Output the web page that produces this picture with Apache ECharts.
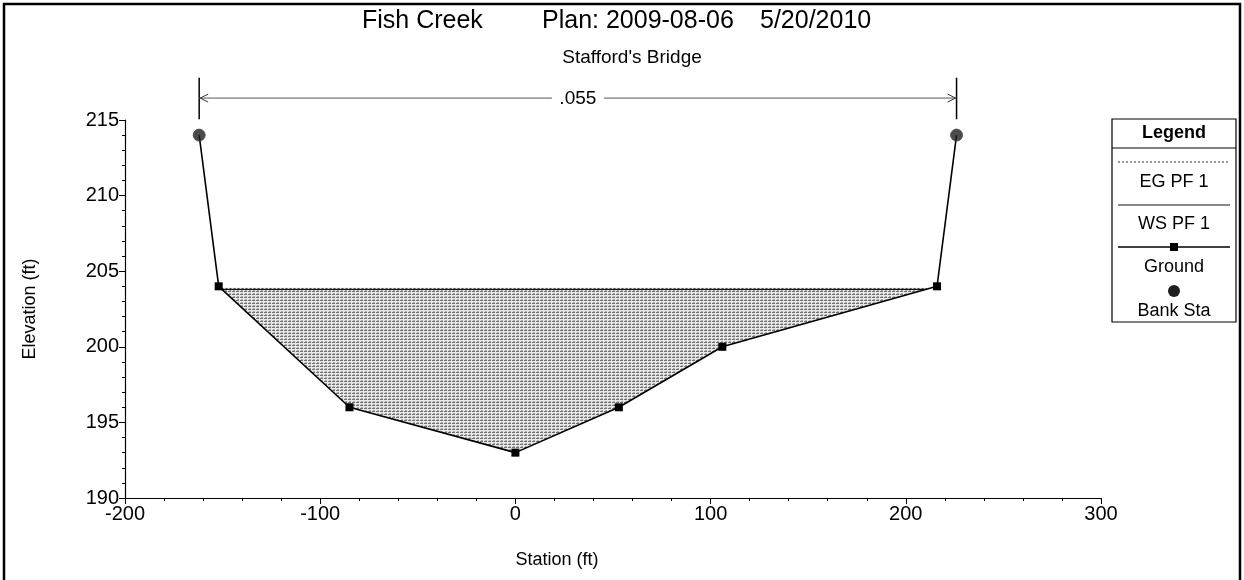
<!DOCTYPE html>
<html>
<head>
<meta charset="utf-8">
<script src="https://cdn.jsdelivr.net/npm/echarts@6/dist/echarts.min.js"></script>
<style>
html,body{margin:0;padding:0;background:#fff;}
#chart{width:1244px;height:580px;}
</style>
</head>
<body>
<div id="chart"></div>
<script>
// ---- data ----
const stations = [-162, -152, -85, 0, 53, 106, 216, 226];
const elevations = [214, 204, 196, 193, 196, 200, 204, 214];
const bankStations = [-162, 226];
const bankElevations = [214, 214];
const wsElevation = 203.8;
const egElevation = 203.86;
const manningN = '.055';
const xTicks = [-200, 300, 100];   // min, max, interval
const yTicks = [190, 215, 5];
const titleParts = ['Fish Creek', 'Plan: 2009-08-06', '5/20/2010'];
const subTitle = "Stafford's Bridge";
const legendItems = ['EG PF 1', 'WS PF 1', 'Ground', 'Bank Sta'];

const FONT = '"Liberation Sans", Arial, sans-serif';

// water edge intersections with ground
function waterPolygon(ws) {
  const pts = [];
  for (let i = 0; i < stations.length - 1; i++) {
    const x1 = stations[i], y1 = elevations[i], x2 = stations[i+1], y2 = elevations[i+1];
    if (y1 < ws) pts.push([x1, y1]);
    if ((y1 - ws) * (y2 - ws) < 0) {
      const t = (ws - y1) / (y2 - y1);
      pts.push([x1 + t * (x2 - x1), ws]);
    }
  }
  return pts;
}
const waterPts = waterPolygon(wsElevation);
const wsLine = [waterPts[0], waterPts[waterPts.length - 1]];
const egLine = [[wsLine[0][0] - 0.2, egElevation], [wsLine[1][0] + 0.2, egElevation]];

// hatch pattern
const pc = document.createElement('canvas');
pc.width = 4; pc.height = 3;
const pctx = pc.getContext('2d');
pctx.fillStyle = '#e8e8e8'; pctx.fillRect(0, 0, 4, 3);
pctx.fillStyle = '#707070'; pctx.fillRect(0, 0, 3, 1);
pctx.fillStyle = '#a8a8a8'; pctx.fillRect(1, 2, 2, 1);

const groundData = stations.map((s, i) => {
  const isBank = bankStations.includes(s);
  return isBank ? { value: [s, elevations[i]], symbol: 'none' } : [s, elevations[i]];
});

const chart = echarts.init(document.getElementById('chart'), null, { renderer: 'canvas' });

const axisCommon = {
  axisLine: { show: true, onZero: false, lineStyle: { color: '#000', width: 1.2 } },
  axisTick: { show: true, inside: false, length: 6, lineStyle: { color: '#000' } },
  minorTick: { show: true, splitNumber: 5, length: 3, lineStyle: { color: '#000' } },
  splitLine: { show: false },
  axisLabel: { color: '#000', fontFamily: FONT, fontSize: 20 }
};

chart.setOption({
  animation: false,
  backgroundColor: '#fff',
  grid: { left: 125, right: 143, top: 120, bottom: 82 },
  xAxis: Object.assign({}, axisCommon, {
    type: 'value', min: xTicks[0], max: xTicks[1], interval: xTicks[2],
    axisLabel: Object.assign({}, axisCommon.axisLabel, { margin: 6 })
  }),
  yAxis: Object.assign({}, axisCommon, {
    type: 'value', min: yTicks[0], max: yTicks[1], interval: yTicks[2],
    name: 'Elevation (ft)', nameLocation: 'middle', nameGap: 86,
    nameTextStyle: { color: '#000', fontFamily: FONT, fontSize: 18 },
    axisLabel: Object.assign({}, axisCommon.axisLabel, { margin: 6 })
  }),
  series: [
    {
      type: 'custom',
      name: 'water',
      z: 1,
      silent: true,
      data: [[0, 0]],
      renderItem: function (params, api) {
        const points = waterPts.map(p => api.coord(p));
        return {
          type: 'polygon',
          shape: { points: points },
          style: { fill: { image: pc, repeat: 'repeat' }, stroke: 'none' }
        };
      }
    },
    {
      type: 'line', name: 'WS PF 1', data: wsLine, z: 3,
      symbol: 'none', lineStyle: { color: '#111', width: 1.2 }
    },
    {
      type: 'line', name: 'EG PF 1', data: egLine, z: 3,
      symbol: 'none', lineStyle: { color: '#444', width: 1, type: [2, 2] }
    },
    {
      type: 'line', name: 'Ground', data: groundData, z: 4,
      symbol: 'rect', symbolSize: 8, itemStyle: { color: '#000' },
      lineStyle: { color: '#000', width: 1.6 }
    },
    {
      type: 'scatter', name: 'Bank Sta', z: 5,
      data: bankStations.map((s, i) => [s, bankElevations[i]]),
      symbol: 'circle', symbolSize: 12,
      itemStyle: { color: '#1e1e1e', borderColor: '#444', borderWidth: 1 }
    }
  ]
});

// ---- annotations (positions through the chart's scales) ----
const px = (x, y) => chart.convertToPixel({ gridIndex: 0 }, [x, y]);
const gfx = [];

// outer frame
gfx.push({ type: 'rect', shape: { x: 4, y: 4, width: 1236, height: 600 },
  style: { fill: 'none', stroke: '#000', lineWidth: 2.5 }, z: 10 });

// title
const titleX = [362, 542, 760];
titleParts.forEach((t, i) => gfx.push({ type: 'text', left: titleX[i], top: 9, z: 10,
  style: { text: t, font: '25px ' + FONT, fill: '#000' } }));
gfx.push({ type: 'text', z: 10, x: 632, y: 58,
  style: { text: subTitle, font: '19px ' + FONT, fill: '#000', textAlign: 'center', textVerticalAlign: 'middle' } });

// x axis name
gfx.push({ type: 'text', z: 10, x: 557, y: 560,
  style: { text: 'Station (ft)', font: '18px ' + FONT, fill: '#000', textAlign: 'center', textVerticalAlign: 'middle' } });

// manning's n span annotation
const L = px(bankStations[0], 216.45), R = px(bankStations[1], 216.45);
const topV = px(0, 217.8)[1], botV = px(0, 215.05)[1];
const arrowY = L[1];
const midX = (L[0] + R[0]) / 2;
gfx.push({ type: 'line', z: 10, shape: { x1: L[0], y1: topV, x2: L[0], y2: botV }, style: { stroke: '#000', lineWidth: 1.5 } });
gfx.push({ type: 'line', z: 10, shape: { x1: R[0], y1: topV, x2: R[0], y2: botV }, style: { stroke: '#000', lineWidth: 1.5 } });
gfx.push({ type: 'line', z: 10, shape: { x1: L[0], y1: arrowY, x2: midX - 26, y2: arrowY }, style: { stroke: '#555', lineWidth: 1 } });
gfx.push({ type: 'line', z: 10, shape: { x1: midX + 26, y1: arrowY, x2: R[0], y2: arrowY }, style: { stroke: '#555', lineWidth: 1 } });
gfx.push({ type: 'polyline', z: 10, shape: { points: [[L[0] + 9, arrowY - 4], [L[0] + 1, arrowY], [L[0] + 9, arrowY + 4]] }, style: { stroke: '#333', lineWidth: 1, fill: 'none' } });
gfx.push({ type: 'polyline', z: 10, shape: { points: [[R[0] - 9, arrowY - 4], [R[0] - 1, arrowY], [R[0] - 9, arrowY + 4]] }, style: { stroke: '#333', lineWidth: 1, fill: 'none' } });
gfx.push({ type: 'text', z: 10, x: midX, y: arrowY + 1,
  style: { text: manningN, font: '19px ' + FONT, fill: '#000', textAlign: 'center', textVerticalAlign: 'middle' } });

// legend box
const lx = 1112, lw = 124, lcx = lx + lw / 2;
gfx.push({ type: 'rect', z: 10, shape: { x: lx, y: 119, width: lw, height: 203 }, style: { fill: '#fff', stroke: '#000', lineWidth: 1.2 } });
gfx.push({ type: 'line', z: 11, shape: { x1: lx, y1: 148, x2: lx + lw, y2: 148 }, style: { stroke: '#000', lineWidth: 1 } });
gfx.push({ type: 'text', z: 11, x: lcx, y: 133, style: { text: 'Legend', font: 'bold 18px ' + FONT, fill: '#000', textAlign: 'center', textVerticalAlign: 'middle' } });
gfx.push({ type: 'line', z: 11, shape: { x1: lx + 6, y1: 162, x2: lx + lw - 6, y2: 162 }, style: { stroke: '#333', lineWidth: 1, lineDash: [2, 2] } });
gfx.push({ type: 'line', z: 11, shape: { x1: lx + 6, y1: 205, x2: lx + lw - 6, y2: 205 }, style: { stroke: '#111', lineWidth: 1 } });
gfx.push({ type: 'line', z: 11, shape: { x1: lx + 6, y1: 247, x2: lx + lw - 6, y2: 247 }, style: { stroke: '#000', lineWidth: 1.6 } });
gfx.push({ type: 'rect', z: 12, shape: { x: lcx - 4, y: 243, width: 8, height: 8 }, style: { fill: '#000' } });
gfx.push({ type: 'circle', z: 12, shape: { cx: lcx, cy: 291, r: 6 }, style: { fill: '#1e1e1e' } });
const legendY = [182, 224, 267, 311];
legendItems.forEach((t, i) => gfx.push({ type: 'text', z: 11, x: lcx, y: legendY[i],
  style: { text: t, font: '18px ' + FONT, fill: '#000', textAlign: 'center', textVerticalAlign: 'middle' } }));

chart.setOption({ graphic: gfx });
</script>
</body>
</html>
